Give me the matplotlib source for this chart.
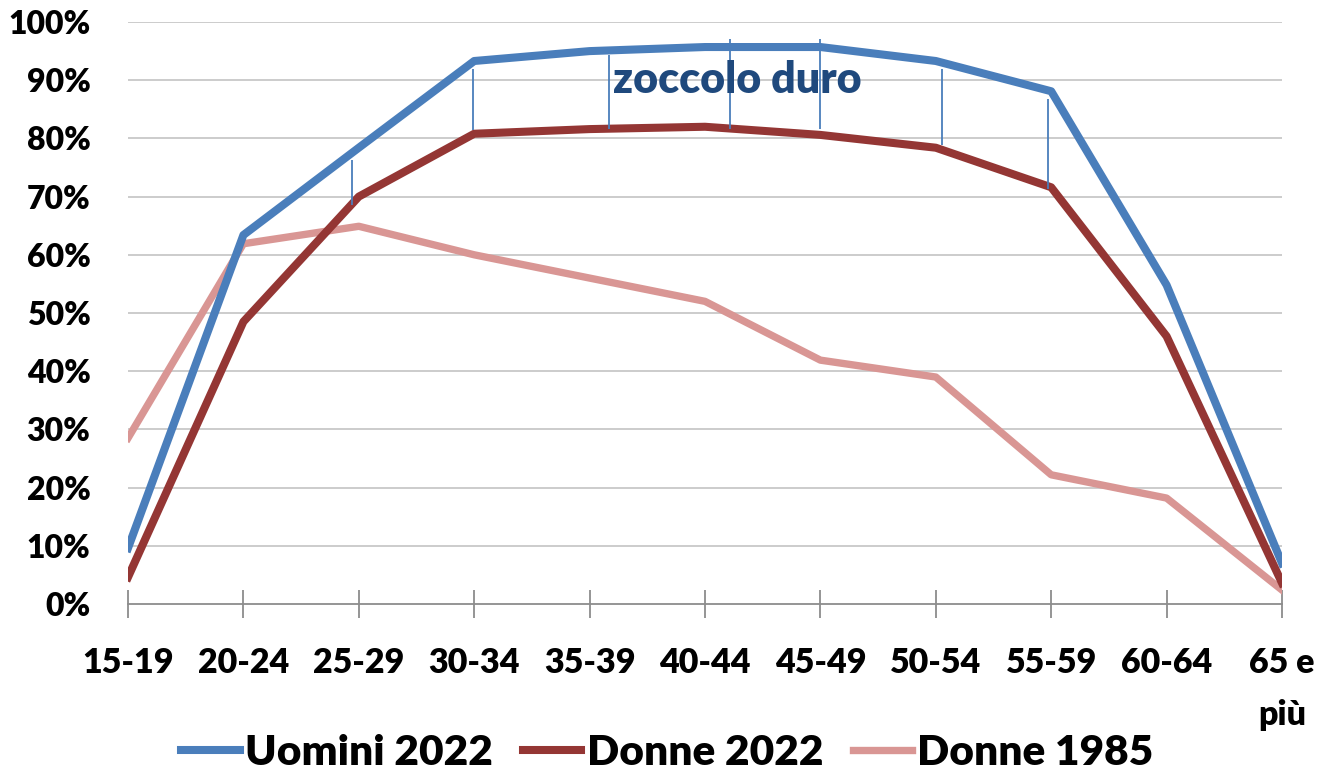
import matplotlib
matplotlib.use("Agg")
import matplotlib.pyplot as plt
import numpy as np

plt.rcParams['font.family'] = ['Lato', 'DejaVu Sans']
plt.rcParams['font.weight'] = 'heavy'

age_groups = ["15-19", "20-24", "25-29", "30-34", "35-39", "40-44",
              "45-49", "50-54", "55-59", "60-64", "65 e\npiù"]
uomini_2022 = [9.6, 63.4, 78.4, 93.3, 95.0, 95.7, 95.7, 93.3, 88.1, 54.8, 7.0]
donne_2022 = [4.6, 48.5, 70.0, 80.8, 81.6, 82.0, 80.6, 78.4, 71.6, 46.0, 3.6]
donne_1985 = [28.5, 61.9, 64.9, 60.0, 56.0, 52.0, 41.9, 39.0, 22.2, 18.2, 2.4]

# thin vertical marks of the "zoccolo duro" gap (x in category units, y in %)
gap_x = [1.94, 2.99, 4.17, 5.22, 6.0, 7.05, 7.97]
gap_top = [76.3, 91.9, 94.3, 97.1, 97.1, 91.9, 86.8]
gap_bot = [68.6, 81.4, 81.6, 81.6, 81.6, 78.9, 71.3]

BLUE = '#4a7ebb'
RED = '#943634'
PINK = '#d99694'

fig = plt.figure(figsize=(13.22, 7.71), dpi=100)
ax = fig.add_axes([128/1322, 1-604/771, 1154/1322, 582/771])

x = np.arange(len(age_groups))
ax.plot(x, uomini_2022, color=BLUE, lw=5.8, label="Uomini 2022", zorder=3)
ax.plot(x, donne_2022, color=RED, lw=5.8, label="Donne 2022", zorder=3)
ax.plot(x, donne_1985, color=PINK, lw=5.3, label="Donne 1985", zorder=2)

ax.vlines(gap_x, gap_bot, gap_top, color=BLUE, lw=1.3, zorder=4)
ax.text(5.28, 87.8, "zoccolo duro", color='#1f497d', fontsize=31,
        fontweight='heavy', ha='center', va='baseline', zorder=5)

ax.set_xlim(0, 10)
ax.set_ylim(0, 100)
ax.set_yticks(np.arange(0, 101, 10))
ax.set_yticklabels([f"{v}%" for v in range(0, 101, 10)])
ax.set_xticks(x)
ax.set_xticklabels(age_groups)
for lbl in ax.get_xticklabels():
    lbl.set_linespacing(1.75)
    lbl.set_verticalalignment('top')

for v in range(10, 101, 10):
    ax.axhline(v, color='#bfbfbf', lw=1.1, zorder=1)

for s in ['top', 'right', 'left']:
    ax.spines[s].set_visible(False)
ax.spines['bottom'].set_color('#8c8c8c')
ax.spines['bottom'].set_linewidth(1.3)

ax.tick_params(axis='x', direction='inout', length=20, width=1.3,
               color='#8c8c8c', pad=21, labelsize=24.5)
ax.tick_params(axis='y', length=0, pad=27, labelsize=23)

fig.legend(loc='center', bbox_to_anchor=(667/1322, 1-753/771), ncol=3,
           frameon=False, fontsize=30.5, handlelength=1.39, handletextpad=0.12,
           columnspacing=0.7, borderaxespad=0, borderpad=0)

fig.savefig("out.png", dpi=100)
